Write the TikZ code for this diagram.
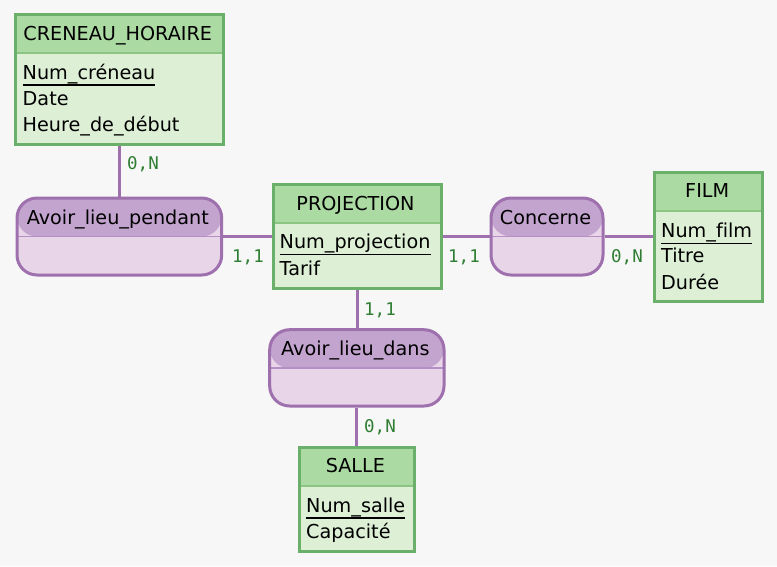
\documentclass[tikz,border=0pt]{standalone}
\usepackage{fontspec}
\setmainfont{DejaVu Sans}[Ligatures=NoCommon]
\newfontfamily\labfont{DejaVu Sans Mono}
\pgfdeclarelayer{back}
\pgfsetlayers{back,main}
\definecolor{bgc}{HTML}{F7F7F7}
\definecolor{entb}{HTML}{6BB06A}
\definecolor{enth}{HTML}{ACDAA3}
\definecolor{entf}{HTML}{DDF0D6}
\definecolor{ents}{HTML}{8CC483}
\definecolor{relb}{HTML}{9E70AD}
\definecolor{relh}{HTML}{C3A4CF}
\definecolor{relf}{HTML}{E8D5E8}
\definecolor{rels}{HTML}{B690C4}
\definecolor{labc}{HTML}{2E7D32}
\tikzset{
  ent/.style={draw=entb, line width=3pt, fill=entf, inner sep=0pt, anchor=north west,
    path picture={\fill[enth] (path picture bounding box.north west) rectangle ([yshift=-38.5pt]path picture bounding box.north east);
      \draw[ents, line width=1.5pt] ([yshift=-38.5pt]path picture bounding box.north west) -- ([yshift=-38.5pt]path picture bounding box.north east);}},
  rel/.style={draw=relb, line width=3pt, fill=relf, inner sep=0pt, anchor=north west, rounded corners=20pt,
    path picture={\fill[relh] (path picture bounding box.north west) rectangle ([yshift=-38.5pt]path picture bounding box.north east);
      \draw[rels, line width=1.5pt] ([yshift=-38.5pt]path picture bounding box.north west) -- ([yshift=-38.5pt]path picture bounding box.north east);}},
  txt/.style={inner sep=0pt, font=\fontsize{19.2pt}{23pt}\selectfont, text=black},
  ttl/.style={txt, anchor=base},
  attr/.style={txt, anchor=base west},
  uline/.style={line width=1.4pt, black},
  conn/.style={draw=relb, line width=3pt},
  lab/.style={inner sep=0pt, anchor=base west, text=labc, font=\labfont\fontsize{17.5pt}{20pt}\selectfont}
}
\begin{document}
\begin{tikzpicture}[x=1pt,y=-1pt]
\useasboundingbox (0,0) rectangle (777,566);
\begin{pgfonlayer}{back}
\fill[bgc] (0,0) rectangle (777,566);
\end{pgfonlayer}

% Entities
\node[ent, minimum width=207.5pt, minimum height=129.3pt] (cre) at (14,13.2) {};
\node[ent, minimum width=168pt, minimum height=103.3pt] (proj) at (271.5,183.2) {};
\node[ent, minimum width=108pt, minimum height=129.4pt] (film) at (653.2,170.8) {};
\node[ent, minimum width=114.3pt, minimum height=103.7pt] (salle) at (298.2,445.8) {};

% Relations
\node[rel, minimum width=204.7pt, minimum height=77pt] (alp) at (15.5,196.5) {};
\node[rel, minimum width=112pt, minimum height=77pt] (conc) at (489.5,196.5) {};
\node[rel, minimum width=174.3pt, minimum height=76.3pt] (ald) at (268.2,328.2) {};

% Connectors
\begin{pgfonlayer}{back}
\draw[conn] (cre.south) -- (cre.south |- alp.north);
\draw[conn] (alp.east) -- (alp.east -| proj.west);
\draw[conn] (proj.east) -- (proj.east -| conc.west);
\draw[conn] (conc.east) -- (conc.east -| film.west);
\draw[conn] (proj.south) -- (proj.south |- ald.north);
\draw[conn] (ald.south) -- (ald.south |- salle.north);
\end{pgfonlayer}

% Entity texts
\node[ttl] (creT) at (117.75,40) {CRENEAU\_HORAIRE};
\node[attr] (cre1) at (22.5,79) {Num\_créneau};
\node[attr] (cre2) at (22.5,105) {Date};
\node[attr] (cre3) at (22.5,131) {Heure\_de\_début};
\draw[uline] ([yshift=-5.8pt]cre1.base west) -- ([yshift=-5.8pt]cre1.base east);

\node[ttl] (projT) at (355.5,210) {PROJECTION};
\node[attr] (proj1) at (279.5,248.5) {Num\_projection};
\node[attr] (proj2) at (279.5,275) {Tarif};
\draw[uline] ([yshift=-5.8pt]proj1.base west) -- ([yshift=-5.8pt]proj1.base east);

\node[ttl] (filmT) at (707.2,197.5) {FILM};
\node[attr] (film1) at (661,237.5) {Num\_film};
\node[attr] (film2) at (661,262) {Titre};
\node[attr] (film3) at (661,289) {Durée};
\draw[uline] ([yshift=-5.8pt]film1.base west) -- ([yshift=-5.8pt]film1.base east);

\node[ttl] (salleT) at (355.35,472.5) {SALLE};
\node[attr] (salle1) at (306,512) {Num\_salle};
\node[attr] (salle2) at (306,538.5) {Capacité};
\draw[uline] ([yshift=-5.8pt]salle1.base west) -- ([yshift=-5.8pt]salle1.base east);

% Relation texts
\node[ttl] (alpT) at (117.85,224) {Avoir\_lieu\_pendant};
\node[ttl] (concT) at (545.5,224) {Concerne};
\node[ttl] (aldT) at (355.35,355) {Avoir\_lieu\_dans};

% Cardinalities
\node[lab] (c1) at (127,169) {0,N};
\node[lab] (c2) at (232,262) {1,1};
\node[lab] (c3) at (448,262) {1,1};
\node[lab] (c4) at (611,262) {0,N};
\node[lab] (c5) at (364,315) {1,1};
\node[lab] (c6) at (364,432) {0,N};
\end{tikzpicture}
\end{document}
